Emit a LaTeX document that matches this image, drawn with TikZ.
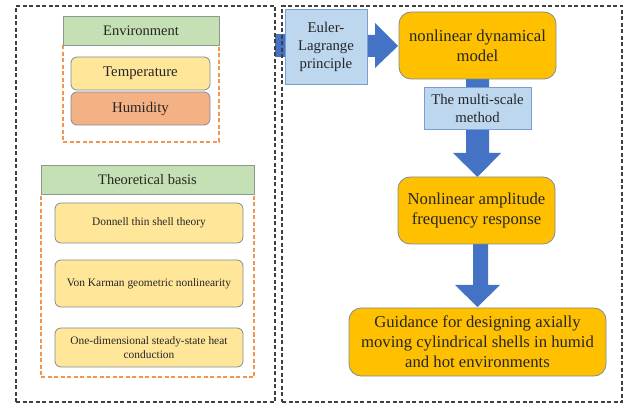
\documentclass[tikz,border=0pt]{standalone}
\usepackage{fontspec}
\setmainfont{Liberation Serif}
\definecolor{txt}{HTML}{262626}
\definecolor{grn}{HTML}{C5E0B4}
\definecolor{grnb}{HTML}{8A9A8A}
\definecolor{ylw}{HTML}{FFE699}
\definecolor{org}{HTML}{F4B183}
\definecolor{orgd}{HTML}{F19552}
\definecolor{gold}{HTML}{FFC000}
\definecolor{lblue}{HTML}{BDD7EE}
\definecolor{blu}{HTML}{4472C4}
\definecolor{bord}{HTML}{7F8C9A}
\definecolor{dgray}{HTML}{404040}
\tikzset{
  outer/.style={draw=dgray, line width=1.1pt, dash pattern=on 4pt off 2.5pt, inner sep=0pt},
  group/.style={draw=orgd, line width=1.2pt, dash pattern=on 4pt off 2.5pt, inner sep=0pt},
  head/.style={draw=grnb, fill=grn, line width=0.8pt, inner sep=0pt, text=txt, font=\fontsize{14.5}{17}\selectfont},
  soft/.style={draw=bord, rounded corners=6pt, line width=0.8pt, inner sep=0pt, text=txt, align=center},
  small/.style={soft, fill=ylw, font=\fontsize{11.4}{13.5}\selectfont},
  mid/.style={soft, font=\fontsize{14.8}{17}\selectfont},
  big/.style={draw=bord, fill=gold, rounded corners=12pt, line width=0.8pt, inner sep=0pt, text=txt, align=center, font=\fontsize{16.7}{20}\selectfont},
  lb/.style={draw=blu!70!white, fill=lblue, line width=0.8pt, inner sep=0pt, text=txt, align=center, font=\fontsize{14.8}{18}\selectfont},
  arr/.style={fill=blu, draw=none}
}
\begin{document}
\begin{tikzpicture}[x=1pt,y=-1pt]
\path[use as bounding box] (0,0) rectangle (624,403);
% blue stub and arrows (behind)
\fill[arr] (275,34) rectangle (287,57);
\fill[arr] (360,35) -- (375,35) -- (375,23) -- (398,46) -- (375,68) -- (375,57) -- (360,57) -- cycle;
\fill[arr] (466,70) -- (489,70) -- (489,153) -- (501,153) -- (477.5,177) -- (453,153) -- (466,153) -- cycle;
\fill[arr] (473,235) -- (488,235) -- (488,285) -- (500,285) -- (477.5,307) -- (455,285) -- (473,285) -- cycle;
% outer dashed frames
\node[outer, minimum width=259pt, minimum height=396pt] (leftbox) at (145.5,204) {};
\node[outer, minimum width=340pt, minimum height=396pt] (rightbox) at (452,204) {};
% left: environment
\node[group, minimum width=156pt, minimum height=97pt] (envg) at (141,93.5) {};
\node[head, minimum width=156pt, minimum height=29pt] (env) at (141,30.5) {Environment};
\node[mid, fill=ylw, minimum width=139pt, minimum height=33pt] (temp) at (140.5,73.5) {Temperature};
\node[mid, fill=org, minimum width=139pt, minimum height=33pt] (hum) at (140.5,108.5) {Humidity};
% left: theoretical basis
\node[group, minimum width=213pt, minimum height=183pt] (theog) at (147.5,285.5) {};
\node[head, minimum width=213pt, minimum height=29pt] (theo) at (147.5,179.5) {Theoretical basis};
\node[small, minimum width=188pt, minimum height=40pt] (don) at (149,223) {Donnell thin shell theory};
\node[small, minimum width=188pt, minimum height=47pt] (von) at (149,283.5) {Von Karman geometric nonlinearity};
\node[small, minimum width=188pt, minimum height=39pt] (one) at (149,347.5) {One-dimensional steady-state heat\\conduction};
% right
\node[lb, minimum width=82pt, minimum height=75pt] (euler) at (326,46.5) {Euler-\\Lagrange\\principle};
\node[big, minimum width=157pt, minimum height=67pt] (model) at (477.5,45.5) {nonlinear dynamical\\model};
\node[lb, minimum width=107pt, minimum height=42pt] (multi) at (477.5,108) {The multi-scale\\method};
\node[big, minimum width=157pt, minimum height=67pt] (amp) at (476.5,210.5) {Nonlinear amplitude\\frequency response};
\node[big, minimum width=257pt, minimum height=68pt] (guid) at (477.5,342) {Guidance for designing axially\\moving cylindrical shells in humid\\and hot environments};
\end{tikzpicture}
\end{document}
